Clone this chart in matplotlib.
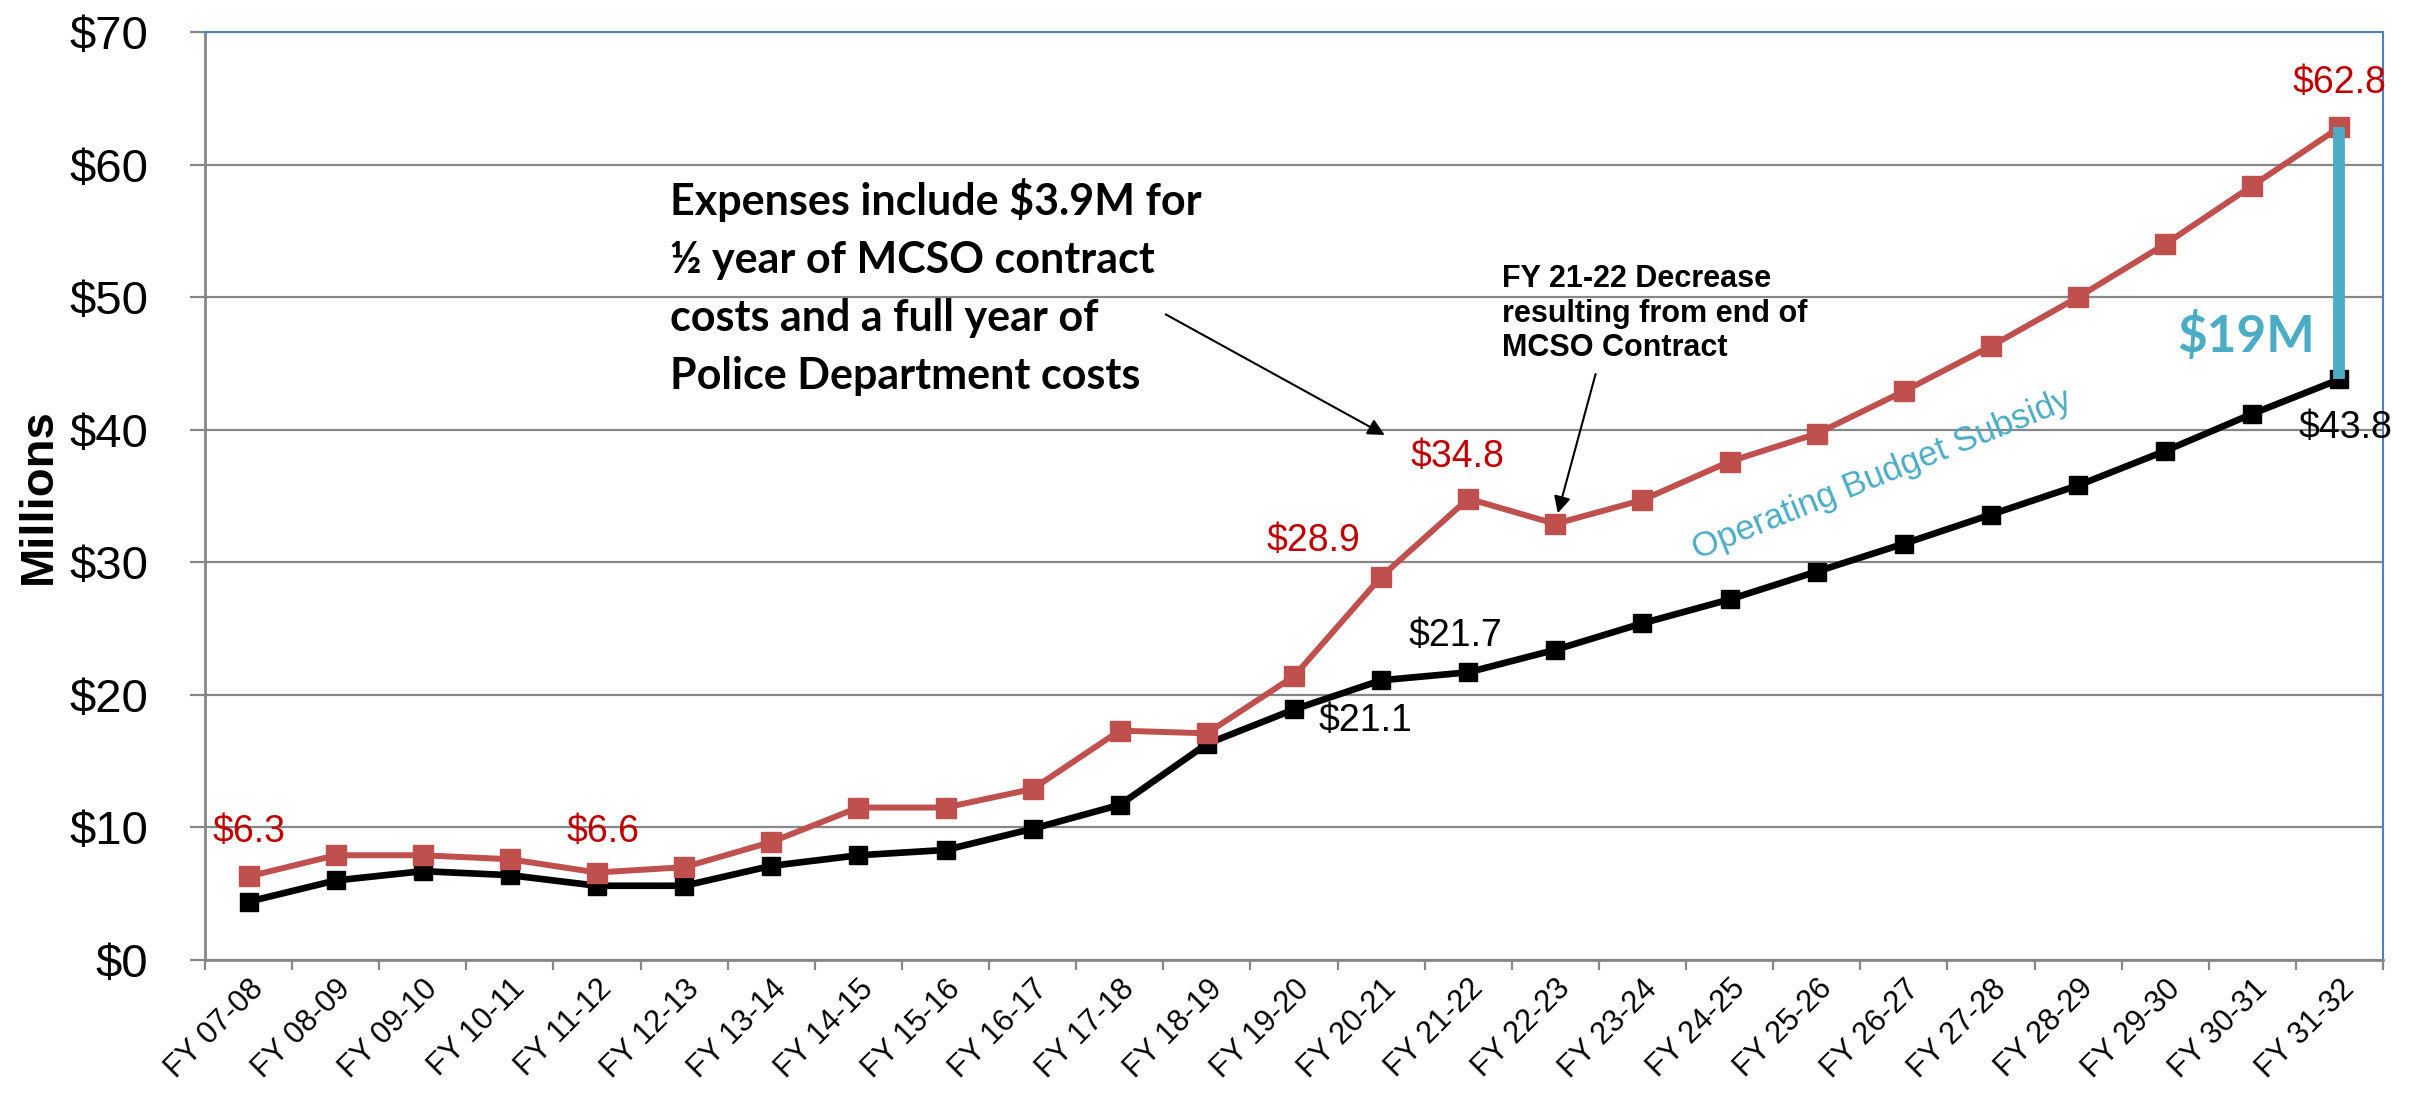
import matplotlib
matplotlib.use("Agg")
import matplotlib.pyplot as plt
import numpy as np

### Data ###
years = ['FY 07-08', 'FY 08-09', 'FY 09-10', 'FY 10-11', 'FY 11-12', 'FY 12-13',
         'FY 13-14', 'FY 14-15', 'FY 15-16', 'FY 16-17', 'FY 17-18', 'FY 18-19',
         'FY 19-20', 'FY 20-21', 'FY 21-22', 'FY 22-23', 'FY 23-24', 'FY 24-25',
         'FY 25-26', 'FY 26-27', 'FY 27-28', 'FY 28-29', 'FY 29-30', 'FY 30-31',
         'FY 31-32']
expenses = [6.3, 7.9, 7.9, 7.6, 6.6, 7.0, 8.9, 11.5, 11.5, 12.9, 17.3, 17.1,
            21.4, 28.9, 34.8, 32.9, 34.7, 37.6, 39.7, 42.9, 46.3, 50.0, 54.0,
            58.4, 62.8]
revenues = [4.4, 6.0, 6.7, 6.4, 5.6, 5.6, 7.1, 7.9, 8.3, 9.9, 11.7, 16.3,
            18.9, 21.1, 21.7, 23.4, 25.4, 27.2, 29.3, 31.4, 33.6, 35.8, 38.4,
            41.2, 43.8]
yticks = [0, 10, 20, 30, 40, 50, 60, 70]

# (index, offset in points) for the value labels
expense_labels = [(0, (0, 32)), (4, (4, 29)), (13, (-49, 26)), (14, (-8, 30)), (24, (0, 32))]
revenue_labels = [(13, (-11, -29)), (14, (-9, 26)), (24, (4, -35))]
### End Data ###

red = '#C0504D'
red_text = '#C00000'
teal = '#4BACC6'
grey = '#878787'
blue = '#4F81BD'

plt.rcParams['font.family'] = ['Liberation Sans', 'DejaVu Sans']

fig = plt.figure(figsize=(24.17, 10.93), dpi=100)
ax = fig.add_axes([205/2417, 1 - 960/1093, (2383-205)/2417, (960-32)/1093])

x = np.arange(len(years))

ax.plot(x, revenues, color='black', lw=4.8, marker='s', ms=13.5, zorder=3)
ax.plot(x, expenses, color=red, lw=4.3, marker='s', ms=14, zorder=4)

# subsidy bar between the two series in the last year
ax.vlines(x[-1], revenues[-1], expenses[-1], color=teal, lw=8.5, zorder=5)

for i, off in expense_labels:
    ax.annotate('$%.1f' % expenses[i], (x[i], expenses[i]), xytext=off,
                textcoords='offset points', ha='center', va='center',
                fontsize=27, color=red_text)
for i, off in revenue_labels:
    ax.annotate('$%.1f' % revenues[i], (x[i], revenues[i]), xytext=off,
                textcoords='offset points', ha='center', va='center',
                fontsize=27, color='black')

ax.set_xlim(-0.5, len(years) - 0.5)
ax.set_ylim(0, 70)
ax.set_yticks(yticks)
ax.set_yticklabels(['$%d' % v for v in yticks])
ax.yaxis.grid(True, color=grey, lw=1.6)
ax.set_axisbelow(True)

ax.set_xticks(x)
ax.set_xticklabels(years, rotation=45, ha='right', va='top', rotation_mode='anchor', fontsize=22)
ax.set_xticks(np.arange(-0.5, len(years)), minor=True)
ax.tick_params(axis='x', which='major', length=0, pad=10)
ax.tick_params(axis='x', which='minor', length=7, width=1.6, color=grey)
ax.tick_params(axis='y', length=11, width=1.6, color=grey, labelsize=34, pad=30)

for s in ('left', 'bottom'):
    ax.spines[s].set_color(grey)
    ax.spines[s].set_linewidth(2)
for s in ('top', 'right'):
    ax.spines[s].set_color(blue)
    ax.spines[s].set_linewidth(1.5)

ax.set_ylabel('Millions', fontsize=34, fontweight='bold')
ax.yaxis.set_label_coords(-0.066, 0.5)

# annotations
ax.text(4.84, 59.0, 'Expenses include $3.9M for\n\u00bd year of MCSO contract\ncosts and a full year of\nPolice Department costs',
        family='Lato', fontweight='bold', fontsize=31, ha='left', va='top', linespacing=1.55)
ax.annotate('', xy=(13.07, 39.5), xytext=(10.5, 48.8),
            arrowprops=dict(arrowstyle='-|>', color='black', lw=1.5, mutation_scale=25))

ax.text(14.39, 52.5, 'FY 21-22 Decrease\nresulting from end of\nMCSO Contract',
        fontweight='bold', fontsize=22, ha='left', va='top', linespacing=1.2)
ax.annotate('', xy=(15.02, 33.5), xytext=(15.47, 44.4),
            arrowprops=dict(arrowstyle='-|>', color='black', lw=1.5, mutation_scale=25))

ax.text(22.93, 47.1, '$19M', family='Lato', fontweight='bold', fontsize=37,
        color=teal, ha='center', va='center')
ax.text(18.75, 36.6, 'Operating Budget Subsidy', fontsize=25, color=teal,
        rotation=22, ha='center', va='center', rotation_mode='anchor')

fig.savefig('out.png', dpi=100)
